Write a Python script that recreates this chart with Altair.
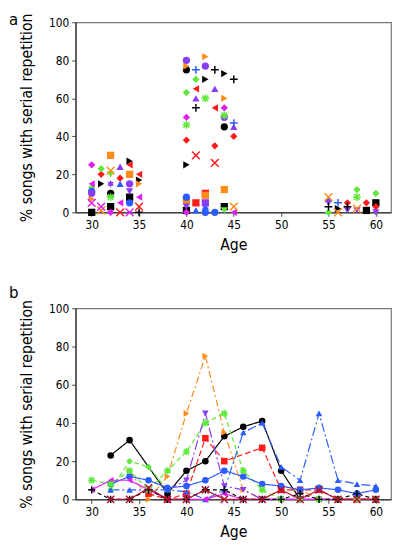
import altair as alt
import pandas as pd

FONT = "DejaVu Sans Condensed, DejaVu Sans"

# ---------------- Panel a: scatter (age, % value) per marker style ----------------
a_black_circle = [(32, 10), (34, 7), (40, 75), (44, 45)]
a_black_square = [(30, 0), (32, 3), (34, 8), (40, 1), (44, 3), (59, 1), (60, 5)]
a_black_rtri = [(31, 15), (34, 27), (35, 17), (40, 25), (42, 70), (44, 73), (56, 2)]
a_black_plus = [(35, 0), (41, 55), (43, 75), (45, 70), (55, 3), (57, 3)]
a_red_diamond = [(31, 20), (33, 18), (40, 38), (43, 35), (45, 40), (57, 5), (59, 5), (60, 3)]
a_red_ltri = [(34, 25), (35, 20), (41, 65), (43, 55)]
a_red_x = [(33, 0), (35, 3), (41, 30), (43, 26)]
a_red_square = [(41, 5), (42, 10)]
a_orange_square = [(32, 30), (34, 20), (40, 6), (42, 9), (44, 12)]
a_orange_rtri = [(30, 7), (35, 15), (40, 77), (42, 82), (44, 60)]
a_orange_x = [(31, 1), (32, 22), (45, 3), (55, 8), (56, 0), (58, 2)]
a_green_diamond = [(30, 13), (31, 23), (40, 63), (41, 70), (55, 0), (58, 12), (60, 10)]
a_green_star = [(32, 8), (40, 46), (42, 60), (44, 51), (58, 8)]
a_green_dtri = [(32, 20), (44, 1)]
a_blue_circle = [(30, 11), (34, 5), (40, 8), (42, 0), (43, 0)]
a_blue_tri = [(33, 15), (41, 1), (42, 3), (55, 7)]
a_blue_plus = [(41, 75), (45, 47), (56, 5)]
a_purple_circle = [(30, 10), (34, 15), (40, 80), (42, 77), (44, 50)]
a_purple_tri = [(33, 24), (41, 60), (43, 65), (45, 45)]
a_purple_star6 = [(32, 15)]
a_purple_dtri = [(34, 11), (40, 3), (55, 5), (57, 1), (58, 1), (60, 0)]
a_purple_square = [(42, 5)]
a_magenta_diamond = [(30, 25), (32, 0), (40, 50), (40, 0), (44, 55)]
a_magenta_ltri = [(30, 15), (33, 5), (35, 8), (45, 0)]
a_magenta_x = [(30, 5), (31, 3), (34, 0)]

# ---------------- Panel b: lines over ages 30..60 step 2 ----------------
B_AGES = [30, 32, 34, 36, 38, 40, 42, 44, 46, 48, 50, 52, 54, 56, 58, 60]
b_black_solid = [None, 23, 31, None, 3, 15, 20, 33, 38, 41, 15, 0, None, None, None, None]
b_orange_dashdot = [None, None, 15, 0, 12, 45, 75, 35, 5, 0, 5, 5, 0, 0, 0, 0]
b_green_dashed = [10, 8, 15, 5, 15, 25, 40, 45, 15, 5, 0, 0, 0, 0, 0, 0]
b_green_diamond = [None, 5, 20, 17, 5, None, None, None, None, None, None, None, None, None, None, None]
b_purple_longdash = [None, None, None, None, 5, 10, 45, 7, 5, 0, 0, 0, 0, 0, 0, 0]
b_red_dashed = [None, None, None, 3, 0, 3, 32, 20, None, 27, 5, 5, 5, 0, 0, 0]
b_blue_solid = [None, 8, 12, 10, 6, 7, 10, 15, 12, 8, 7, 5, 6, 5, 3, 5]
b_blue_dashdot = [None, 5, 5, 5, 5, 4, 0, 5, 35, 40, 17, 10, 45, 10, 8, 7]
b_magenta_solid = [5, 10, 10, 5, 0, 0, 0, 3, 0, 0, 0, 0, 0, 0, 0, 0]
b_black_dashed = [5, 0, 0, 5, 0, 0, 5, 5, 0, 0, 0, 3, 0, 0, 3, 0]
b_darkred_solid = [None, 0, 0, 6, 0, 0, 5, 0, 0, 0, 5, 0, 5, 0, 0, 0]

# ---------------- Styles ----------------
BLACK, RED, ORANGE, GREEN = "#000000", "#ff1a1a", "#ff8c1a", "#5ee83a"
BLUE, PURPLE, MAGENTA, DARKRED = "#2b5cff", "#8a3cf5", "#e01ef0", "#b01030"

PLUS = "M-1,0L1,0M0,-1L0,1"
XMARK = "M-1,-1L1,1M-1,1L1,-1"
STAR = "M-1,0L1,0M0,-1L0,1M-0.75,-0.75L0.75,0.75M-0.75,0.75L0.75,-0.75"
STAR6 = "M0,-1L0.3,-0.5L0.87,-0.5L0.58,0L0.87,0.5L0.3,0.5L0,1L-0.3,0.5L-0.87,0.5L-0.58,0L-0.87,-0.5L-0.3,-0.5Z"

a_series = [
    ("black circle", a_black_circle, BLACK, "circle", True),
    ("black square", a_black_square, BLACK, "square", True),
    ("black rtri", a_black_rtri, BLACK, "triangle-right", True),
    ("black plus", a_black_plus, BLACK, PLUS, False),
    ("red diamond", a_red_diamond, RED, "diamond", True),
    ("red ltri", a_red_ltri, RED, "triangle-left", True),
    ("red x", a_red_x, RED, XMARK, False),
    ("red square", a_red_square, RED, "square", True),
    ("orange square", a_orange_square, ORANGE, "square", True),
    ("orange rtri", a_orange_rtri, ORANGE, "triangle-right", True),
    ("orange x", a_orange_x, ORANGE, XMARK, False),
    ("green diamond", a_green_diamond, GREEN, "diamond", True),
    ("green star", a_green_star, GREEN, STAR, False),
    ("green dtri", a_green_dtri, GREEN, "triangle-down", True),
    ("blue circle", a_blue_circle, BLUE, "circle", True),
    ("blue tri", a_blue_tri, BLUE, "triangle-up", True),
    ("blue plus", a_blue_plus, BLUE, PLUS, False),
    ("purple circle", a_purple_circle, PURPLE, "circle", True),
    ("purple tri", a_purple_tri, PURPLE, "triangle-up", True),
    ("purple star6", a_purple_star6, PURPLE, STAR6, True),
    ("purple dtri", a_purple_dtri, PURPLE, "triangle-down", True),
    ("purple square", a_purple_square, PURPLE, "square", True),
    ("magenta diamond", a_magenta_diamond, MAGENTA, "diamond", True),
    ("magenta ltri", a_magenta_ltri, MAGENTA, "triangle-left", True),
    ("magenta x", a_magenta_x, MAGENTA, XMARK, False),
]

b_series = [
    ("b black solid", b_black_solid, BLACK, "circle", True, [1, 0]),
    ("b orange dashdot", b_orange_dashdot, ORANGE, "triangle-right", True, [7, 3, 2, 3]),
    ("b green dashed", b_green_dashed, GREEN, STAR, False, [5, 3]),
    ("b green diamond", b_green_diamond, GREEN, "diamond", True, [5, 3]),
    ("b purple longdash", b_purple_longdash, PURPLE, "triangle-down", True, [10, 3, 2, 3]),
    ("b red dashed", b_red_dashed, RED, "square", True, [6, 3]),
    ("b blue solid", b_blue_solid, BLUE, "circle", True, [1, 0]),
    ("b blue dashdot", b_blue_dashdot, BLUE, "triangle-up", True, [9, 3, 2, 3]),
    ("b magenta solid", b_magenta_solid, MAGENTA, "triangle-left", True, [1, 0]),
    ("b black dashed", b_black_dashed, BLACK, PLUS, False, [4, 3]),
    ("b darkred solid", b_darkred_solid, DARKRED, XMARK, False, [1, 0]),
]

rows_a = []
for name, pts, col, shp, filled in a_series:
    for age, val in pts:
        rows_a.append({"series": name, "age": age, "value": val, "filled": filled})
df_a = pd.DataFrame(rows_a)

rows_b = []
for name, vals, col, shp, filled, dash in b_series:
    for age, val in zip(B_AGES, vals):
        if val is not None:
            rows_b.append({"series": name, "age": age, "value": val, "filled": filled})
df_b = pd.DataFrame(rows_b)

XDOM = [28.3, 61.6]
XTICKS = [30, 35, 40, 45, 50, 55, 60]
YTICKS = [0, 20, 40, 60, 80, 100]
W = 322


def xenc():
    return alt.X("age:Q", scale=alt.Scale(domain=XDOM, nice=False, zero=False),
                 axis=alt.Axis(values=XTICKS, title="Age", titlePadding=7))


def yenc():
    return alt.Y("value:Q", scale=alt.Scale(domain=[0, 100], nice=False),
                 axis=alt.Axis(values=YTICKS, title="% songs with serial repetition",
                               titlePadding=14))


def points(df, names, colors, shapes, size):
    color = alt.Color("series:N", scale=alt.Scale(domain=names, range=colors), legend=None)
    shape = alt.Shape("series:N", scale=alt.Scale(domain=names, range=shapes), legend=None)
    filled = alt.Chart(df).transform_filter("datum.filled").mark_point(
        filled=True, size=size, opacity=1).encode(x=xenc(), y=yenc(), color=color, shape=shape)
    stroked = alt.Chart(df).transform_filter("!datum.filled").mark_point(
        filled=False, size=size + 8, opacity=1, strokeWidth=1.5).encode(
        x=xenc(), y=yenc(), color=color, shape=shape)
    return filled, stroked


def panel_label(letter, dy):
    return alt.Chart(pd.DataFrame({"t": [letter]})).mark_text(
        align="left", baseline="alphabetic", fontSize=17, font=FONT, color="black"
    ).encode(text="t:N", x=alt.value(-68), y=alt.value(dy))


a_names = [s[0] for s in a_series]
fa, sa = points(df_a, a_names, [s[2] for s in a_series], [s[3] for s in a_series], 55)
chart_a = alt.layer(fa, sa, panel_label("a", 3)).properties(width=W, height=194)

b_names = [s[0] for s in b_series]
b_colors = [s[2] for s in b_series]
lines_b = alt.Chart(df_b).mark_line(strokeWidth=1.2).encode(
    x=xenc(), y=yenc(),
    color=alt.Color("series:N", scale=alt.Scale(domain=b_names, range=b_colors), legend=None),
    strokeDash=alt.StrokeDash("series:N", scale=alt.Scale(domain=b_names, range=[s[5] for s in b_series]),
                              legend=None),
    order="age:Q",
)
fb, sb = points(df_b, b_names, b_colors, [s[3] for s in b_series], 45)
chart_b = alt.layer(lines_b, fb, sb, panel_label("b", -11)).properties(width=W, height=195)

chart = alt.vconcat(chart_a, chart_b, spacing=30).resolve_scale(
    color="independent", shape="independent", strokeDash="independent"
).properties(
    padding={"top": -3, "left": 0, "right": 0, "bottom": 0}
).configure_view(stroke="#777777", strokeWidth=1.2).configure_axis(
    labelFont=FONT, titleFont=FONT, labelFontSize=12, titleFontSize=16,
    labelColor="black", titleColor="black", titleFontWeight="normal",
    domainColor="#444444", domainWidth=1.5, tickColor="#444444", tickSize=4,
    labelPadding=3, grid=False,
)

chart.save("out.html", embed_options={"renderer": "svg", "actions": False})
